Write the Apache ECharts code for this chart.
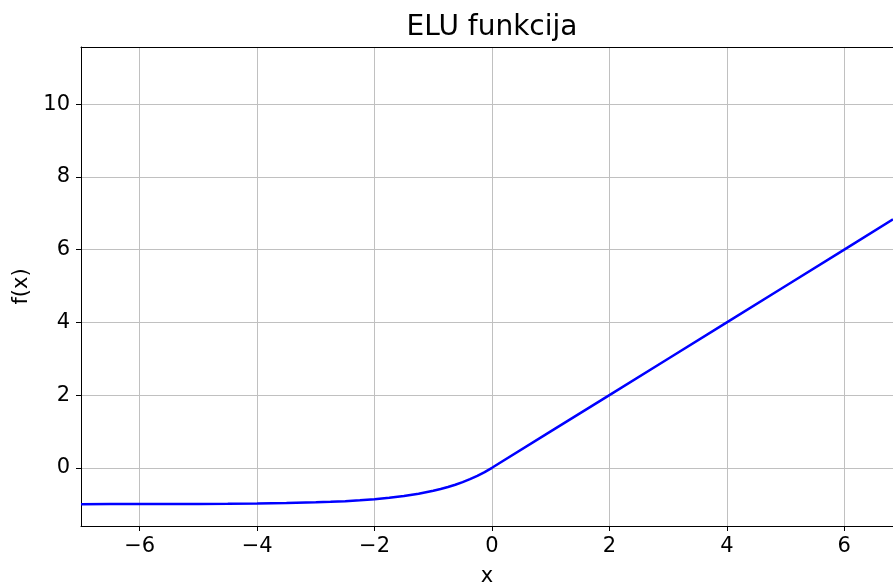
<!DOCTYPE html>
<html>
<head>
<meta charset="utf-8">
<script src="https://cdn.jsdelivr.net/npm/echarts@6/dist/echarts.min.js"></script>
<style>
html,body{margin:0;padding:0;background:#fff;}
#chart{width:893px;height:582px;}
</style>
</head>
<body>
<div id="chart"></div>
<script>
// Values
var titleText = 'ELU funkcija';
var xName = 'x';
var yName = 'f(x)';
var xValues = [-7, -6.5, -6, -5.5, -5, -4.5, -4, -3.5, -3, -2.75, -2.5, -2.25, -2, -1.75, -1.5, -1.25, -1, -0.875, -0.75, -0.625, -0.5, -0.375, -0.25, -0.125, 0, 1, 2, 3, 4, 5, 6, 6.83];
var yValues = [-0.999, -0.998, -0.998, -0.996, -0.993, -0.989, -0.982, -0.970, -0.950, -0.936, -0.918, -0.895, -0.865, -0.826, -0.777, -0.713, -0.632, -0.583, -0.528, -0.465, -0.393, -0.313, -0.221, -0.118, 0, 1, 2, 3, 4, 5, 6, 6.83];
var xRange = [-7, 6.83];
var yRange = [-1.6, 11.57];

var points = xValues.map(function (x, i) { return [x, yValues[i]]; });
var fontFamily = 'DejaVu Sans';
function fmt(v) { return String(v).replace('-', '\u2212'); }

var chart = echarts.init(document.getElementById('chart'), null, {renderer: 'canvas'});
chart.setOption({
  animation: false,
  backgroundColor: '#ffffff',
  textStyle: {fontFamily: fontFamily},
  graphic: [{
    type: 'text',
    x: 492, y: 28,
    style: {
      text: titleText,
      fontFamily: fontFamily,
      fontSize: 28,
      fill: '#000',
      textAlign: 'center',
      textVerticalAlign: 'middle'
    }
  }],
  grid: {left: 81, top: 47, right: 0, bottom: 56, containLabel: false, outerBoundsMode: 'none'},
  xAxis: [{
    type: 'value',
    min: xRange[0], max: xRange[1],
    minInterval: 2, maxInterval: 2,
    splitNumber: 7,
    name: xName,
    nameLocation: 'middle',
    nameGap: 40,
    nameTextStyle: {fontSize: 21, color: '#000', fontFamily: fontFamily},
    axisLine: {show: true, onZero: false, lineStyle: {color: '#000', width: 1}},
    axisTick: {show: true, length: 5, lineStyle: {color: '#000', width: 1}},
    axisLabel: {show: true, showMinLabel: false, showMaxLabel: false, fontSize: 21, color: '#000', margin: 10, fontFamily: fontFamily, formatter: fmt},
    splitLine: {show: true, lineStyle: {color: '#c0c0c0', width: 1}}
  }, {
    type: 'value',
    position: 'top',
    min: xRange[0], max: xRange[1],
    axisLine: {show: true, onZero: false, lineStyle: {color: '#000', width: 1}},
    axisTick: {show: false},
    axisLabel: {show: false},
    splitLine: {show: false}
  }],
  yAxis: {
    type: 'value',
    min: yRange[0], max: yRange[1],
    minInterval: 2, maxInterval: 2,
    splitNumber: 7,
    name: yName,
    nameLocation: 'middle',
    nameRotate: 90,
    nameGap: 47,
    nameTextStyle: {fontSize: 21, color: '#000', fontFamily: fontFamily},
    axisLine: {show: true, onZero: false, lineStyle: {color: '#000', width: 1}},
    axisTick: {show: true, length: 5, lineStyle: {color: '#000', width: 1}},
    axisLabel: {show: true, showMinLabel: false, showMaxLabel: false, fontSize: 21, color: '#000', margin: 11, fontFamily: fontFamily, formatter: fmt},
    splitLine: {show: true, lineStyle: {color: '#c0c0c0', width: 1}}
  },
  series: [{
    type: 'line',
    xAxisIndex: 0,
    data: points,
    smooth: false,
    showSymbol: false,
    symbol: 'none',
    lineStyle: {color: '#0000ff', width: 2.5},
    clip: true
  }]
});
</script>
</body>
</html>
